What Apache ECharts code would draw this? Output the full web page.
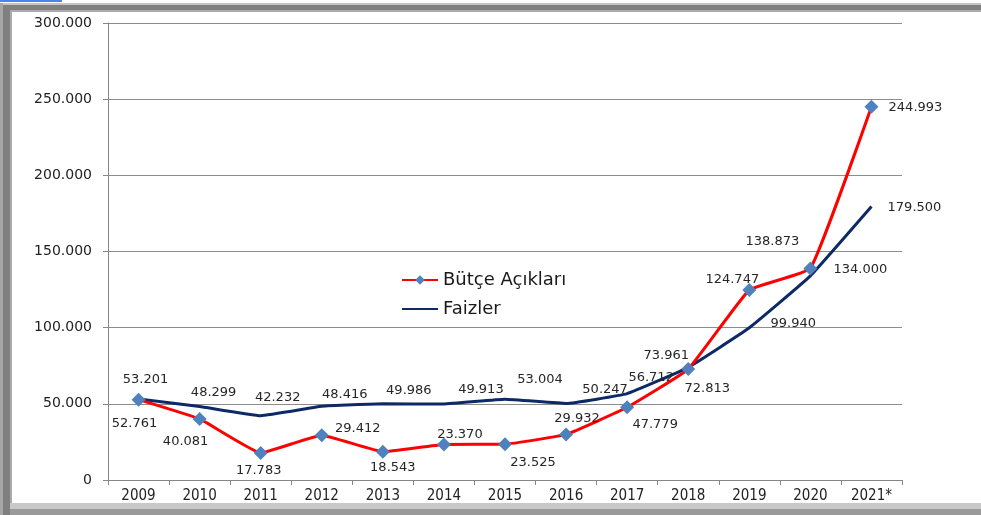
<!DOCTYPE html>
<html>
<head>
<meta charset="utf-8">
<script src="https://cdn.jsdelivr.net/npm/echarts@6/dist/echarts.min.js"></script>
<style>
  html, body { margin: 0; padding: 0; background: #fff; }
  #chart { width: 981px; height: 515px; }
</style>
</head>
<body>
<div id="chart"></div>
<script>
// yillar
var years = ['2009', '2010', '2011', '2012', '2013', '2014', '2015', '2016', '2017', '2018', '2019', '2020', '2021*'];
// milyon TL
var butceAcigi = [52761, 40081, 17783, 29412, 18543, 23370, 23525, 29932, 47779, 72813, 124747, 138873, 244993];
var faizler = [53201, 48299, 42232, 48416, 49986, 49913, 53004, 50247, 56712, 73961, 99940, 134000, 179500];
var yTicks = [0, 50000, 100000, 150000, 200000, 250000, 300000];

// etiket kaydirma (piksel) - sadece gorunum icin
var redOffsets = [[-4, 24], [-14, 23], [-2, 18], [36, -7], [10, 16], [16, -10], [28, 18], [11, -16], [28, 17], [19, 20], [-17, -10], [-38, -27], [44, 1]];
var blueOffsets = [[7, -19], [14, -14], [17, -18], [23, -12], [26, -13], [37, -14], [35, -20], [39, -14], [24, -16], [-22, -12], [44, -4], [50, -6], [43, 1]];

function fmt(v) {
	return String(v).replace(/\B(?=(\d{3})+(?!\d))/g, '.');
}

function withLabels(values, offsets) {
	var out = [];
	for (var i = 0; i < values.length; i++) {
		out.push({ value: values[i], label: { offset: offsets[i] } });
	}
	return out;
}

var myChart = echarts.init(document.getElementById('chart'), null, { renderer: 'canvas' });
var labelFont = {
	show: true,
	position: 'inside',
	fontFamily: 'DejaVu Sans',
	fontSize: 13,
	color: '#262626',
	formatter: function(p) { return fmt(p.value); }
};

var option = {
	animation: false,
	backgroundColor: '#fff',
	grid: { left: 108, right: 79, top: 23, bottom: 35 },
	legend: {
		orient: 'vertical',
		left: 396,
		top: 266,
		itemWidth: 36,
		itemHeight: 12,
		itemGap: 11,
		textStyle: { fontFamily: 'DejaVu Sans', fontSize: 18, color: '#1a1a1a' },
		data: [
			{ name: 'Bütçe Açıkları' },
			{ name: 'Faizler', itemStyle: { opacity: 0 } }
		]
	},
	xAxis: {
		type: 'category',
		data: years,
		boundaryGap: true,
		axisLine: { lineStyle: { color: '#868686', width: 1 } },
		axisTick: { show: true, length: 5, lineStyle: { color: '#868686' } },
		axisLabel: { fontFamily: 'DejaVu Sans Condensed, DejaVu Sans', fontSize: 15, color: '#222', margin: 9 }
	},
	yAxis: {
		type: 'value',
		min: yTicks[0],
		max: yTicks[yTicks.length - 1],
		interval: 50000,
		axisLine: { show: true, lineStyle: { color: '#868686', width: 1 } },
		axisTick: { show: true, length: 5, lineStyle: { color: '#868686' } },
		axisLabel: { fontFamily: 'DejaVu Sans', fontSize: 14, color: '#222', margin: 16, formatter: fmt },
		splitLine: { lineStyle: { color: '#8c8c8c', width: 1 } }
	},
	series: [
		{
			name: 'Faizler',
			type: 'line',
			data: withLabels(faizler, blueOffsets),
			smooth: 0.1,
			symbol: 'circle',
			symbolSize: 0,
			lineStyle: { color: '#0e2a66', width: 3 },
			itemStyle: { color: '#0e2a66' },
			label: labelFont,
			z: 2
		},
		{
			name: 'Bütçe Açıkları',
			type: 'line',
			data: withLabels(butceAcigi, redOffsets),
			smooth: 0.1,
			symbol: 'diamond',
			symbolSize: 14,
			lineStyle: { color: '#ff0000', width: 3 },
			itemStyle: { color: '#4f81bd' },
			label: labelFont,
			z: 3
		}
	],
	graphic: [
		{ type: 'rect', shape: { x: 0, y: 0, width: 62, height: 2 }, style: { fill: '#4a86e8' }, silent: true },
		{ type: 'rect', shape: { x: 0, y: 3, width: 981, height: 2 }, style: { fill: '#c4c4c4' }, silent: true },
		{ type: 'rect', shape: { x: 0, y: 5, width: 981, height: 5 }, style: { fill: '#808080' }, silent: true },
		{ type: 'rect', shape: { x: 10, y: 10, width: 971, height: 2 }, style: { fill: '#ababab' }, silent: true },
		{ type: 'rect', shape: { x: 0, y: 3, width: 3, height: 512 }, style: { fill: '#a6a6a6' }, silent: true },
		{ type: 'rect', shape: { x: 3, y: 5, width: 7, height: 510 }, style: { fill: '#808080' }, silent: true },
		{ type: 'rect', shape: { x: 10, y: 10, width: 2, height: 493 }, style: { fill: '#ababab' }, silent: true },
		{ type: 'rect', shape: { x: 10, y: 503, width: 971, height: 6 }, style: { fill: '#c8c8c8' }, silent: true },
		{ type: 'rect', shape: { x: 10, y: 509, width: 971, height: 6 }, style: { fill: '#9a9a9a' }, silent: true }
	]
};
myChart.setOption(option);
</script>
</body>
</html>
